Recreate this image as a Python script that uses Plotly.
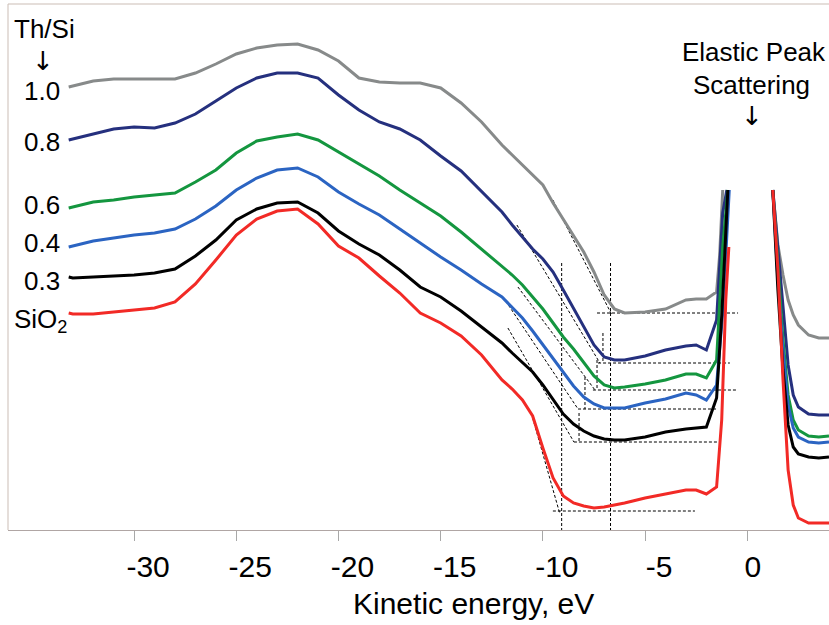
import plotly.graph_objects as go

# ---------------- data (energy in eV, intensity in arbitrary units) ----------------
energy = [-33.2, -33, -32, -31, -30, -29, -28, -27, -26, -25, -24, -23, -22, -21,
          -20, -19, -18, -17, -16, -15, -14, -13, -12, -11.5, -11, -10.5, -10,
          -9.5, -9, -8.5, -8, -7.5, -7, -6.5, -6, -5, -4, -3, -2.5, -2, -1.5]

gray_i = [443, 444, 449, 451, 451, 451, 451, 457, 466, 476, 482, 485, 486, 480,
          469, 452, 448, 447, 447, 442, 427, 408, 385, 375, 365, 355, 345,
          327, 311, 295, 278, 258, 235, 221, 217, 218, 221, 230, 231, 231, 238]
navy_i = [390, 391, 396, 401, 403, 402, 407, 416, 429, 442, 452, 457, 457, 452,
          435, 420, 408, 401, 390, 374, 359, 339, 318, 305, 293, 281, 271,
          258, 240, 222, 203, 185, 173, 170, 170, 174, 180, 184, 185, 180, 210]
green_i = [322, 323, 328, 330, 333, 335, 337, 348, 360, 377, 389, 393, 396, 390,
           378, 366, 354, 340, 327, 314, 298, 281, 264, 255, 245, 233, 221,
           207, 193, 181, 167, 154, 145, 142, 143, 146, 150, 156, 156, 152, 170]
blue_i = [283, 284, 289, 292, 295, 297, 301, 311, 324, 340, 352, 360, 362, 353,
          338, 326, 315, 301, 287, 273, 260, 246, 233, 223, 212, 199, 185,
          171, 157, 144, 133, 126, 122, 122, 122, 127, 131, 137, 135, 130, 145]
black_i = [253, 252, 253, 254, 255, 257, 261, 274, 290, 310, 321, 327, 328, 317,
           299, 286, 275, 260, 243, 233, 219, 203, 187, 177, 167, 158, 145,
           130, 116, 106, 99, 94, 91, 90, 90, 93, 98, 101, 102, 103, 132]
red_i = [217, 216, 216, 218, 220, 222, 228, 246, 270, 295, 311, 319, 321, 306,
         284, 272, 254, 237, 217, 207, 194, 175, 150, 141, 130, 114, 82,
         52, 34, 27, 24, 22, 23, 25, 27, 32, 36, 40, 40, 36, 43]

# rising edge of the elastic peak (low-energy side)
gray_rise_e, gray_rise_i = [-1.35, -1.2], [275, 340]
navy_rise_e, navy_rise_i = [-1.2, -1.0], [317, 340]
green_rise_e, green_rise_i = [-1.2, -0.95], [283, 340]
blue_rise_e, blue_rise_i = [-1.2, -0.95, -0.88], [217, 317, 340]
black_rise_e, black_rise_i = [-1.24, -0.95], [217, 340]
red_rise_e, red_rise_i = [-1.25, -1.05, -0.9], [110, 230, 283]

# falling edge of the elastic peak (high-energy side)
energy_right = [1.25, 1.5, 1.75, 2.0, 2.25, 2.5, 3.0, 3.5, 4.0]
gray_r = [340, 285, 255, 230, 215, 205, 195, 192, 192]
navy_r = [340, 280, 220, 165, 135, 123, 116, 115, 115]
green_r = [340, 260, 190, 135, 110, 100, 94, 93, 94]
blue_r = [340, 250, 180, 125, 102, 93, 88, 87, 88]
black_r = [340, 240, 160, 105, 83, 76, 73, 72, 73]
red_r = [340, 260, 150, 60, 25, 12, 7, 7, 7]

labels = ["1.0", "0.8", "0.6", "0.4", "0.3", "SiO<sub>2</sub>"]
colors = ["#878a8a", "#25307e", "#14963f", "#2b64c2", "#000000", "#f22a26"]

# guide lines (band-gap onset construction)
onset_e = [-9.08, -6.69]
onset_top = 267
base_i = [217, 167, 140, 121, 88, 19]
base_e0 = [-7.35, -7.30, -7.55, -8.28, -8.48, -9.51]
base_e1 = [-0.45, -0.85, -0.50, -1.43, -1.48, -2.56]
tan_e0 = [-9.51, -11.27, -11.22, -11.95, -11.71, -10.50]
tan_i0 = [330, 305, 243, 233, 202, 112]
tan_e1 = [-6.62, -7.21, -7.45, -8.28, -8.48, -9.18]
tan_i1 = [215, 167, 140, 121, 88, 17]
mark_e = [-7.06, -7.35, -7.94, -8.23]
mark_top = [197, 170, 153, 117]
mark_bot = [167, 140, 121, 88]

tick_vals = [-30, -25, -20, -15, -10, -5, 0]
tick_text = ["-30", "-25", "-20", "-15", "-10", "-5", "0\u00a0\u00a0"]

# ---------------- figure ----------------
fig = go.Figure()

curves = [
    (gray_i, gray_rise_e, gray_rise_i, gray_r),
    (navy_i, navy_rise_e, navy_rise_i, navy_r),
    (green_i, green_rise_e, green_rise_i, green_r),
    (blue_i, blue_rise_e, blue_rise_i, blue_r),
    (black_i, black_rise_e, black_rise_i, black_r),
    (red_i, red_rise_e, red_rise_i, red_r),
]

dash_style = dict(color="black", width=1, dash="3px,2px")

def guide(xs, ys):
    fig.add_trace(go.Scatter(x=xs, y=ys, mode="lines", line=dash_style,
                             showlegend=False, hoverinfo="skip"))

for e in onset_e:
    guide([e, e], [onset_top, 0])
for k in range(6):
    guide([base_e0[k], base_e1[k]], [base_i[k], base_i[k]])
    guide([tan_e0[k], tan_e1[k]], [tan_i0[k], tan_i1[k]])
for k in range(4):
    guide([mark_e[k], mark_e[k]], [mark_top[k], mark_bot[k]])

for (yi, re, ri, rr), col, lab in zip(curves, colors, labels):
    xs = energy + re + [None] + energy_right
    ys = yi + ri + [None] + rr
    fig.add_trace(go.Scatter(x=xs, y=ys, mode="lines", name=lab,
                             line=dict(color=col, width=3), showlegend=False,
                             connectgaps=False))

FONT = "Liberation Sans, Arial, sans-serif"
ARROW_FONT = "DejaVu Sans, sans-serif"
ann = []
def text(x, y, s, size=26, xref="x", yref="y", family=FONT):
    ann.append(dict(x=x, y=y, xref=xref, yref=yref, text=s, showarrow=False,
                    font=dict(family=family, size=size, color="black"),
                    xanchor="center", yanchor="middle"))

text(-34.36, 501, "Th/Si")
text(-34.46, 469, "↓", size=26, family=ARROW_FONT)
label_y = [439, 388, 325, 287, 249]
for s, y in zip(labels[:5], label_y):
    text(-34.51, y, s)
text(-34.6, 210, labels[5])
text(0.33, 478, "Elastic Peak")
text(0.23, 445, "Scattering")
text(0.23, 414, "↓", size=26, family=ARROW_FONT)
text(0.5664, -0.1388, "Kinetic energy, eV", size=30, xref="paper", yref="paper")

frame = "#cbbdb5"
shapes = [
    dict(type="line", xref="paper", yref="paper", x0=0, x1=1, y0=1, y1=1,
         line=dict(color=frame, width=1)),
    dict(type="line", xref="paper", yref="paper", x0=0, x1=0, y0=0, y1=1,
         line=dict(color=frame, width=1)),
]

fig.update_layout(
    width=829, height=625,
    margin=dict(l=8, r=0, t=4, b=95),
    paper_bgcolor="white", plot_bgcolor="white",
    annotations=ann, shapes=shapes,
    xaxis=dict(range=[-36.17, 4.0], tickvals=tick_vals, ticktext=tick_text,
               showgrid=False, zeroline=False, showline=True,
               linecolor="#b0a6a4", linewidth=1, ticks="outside", ticklen=10,
               tickcolor="#a8a8a8", tickwidth=1, ticklabelshift=14,
               tickfont=dict(family=FONT, size=30, color="black")),
    yaxis=dict(range=[0, 526], showgrid=False, zeroline=False,
               showticklabels=False, showline=False, ticks=""),
)

fig.write_html("out.html", config={"displayModeBar": False},
               post_script="document.body.style.margin='0';"
                           "document.body.style.overflow='hidden';")
